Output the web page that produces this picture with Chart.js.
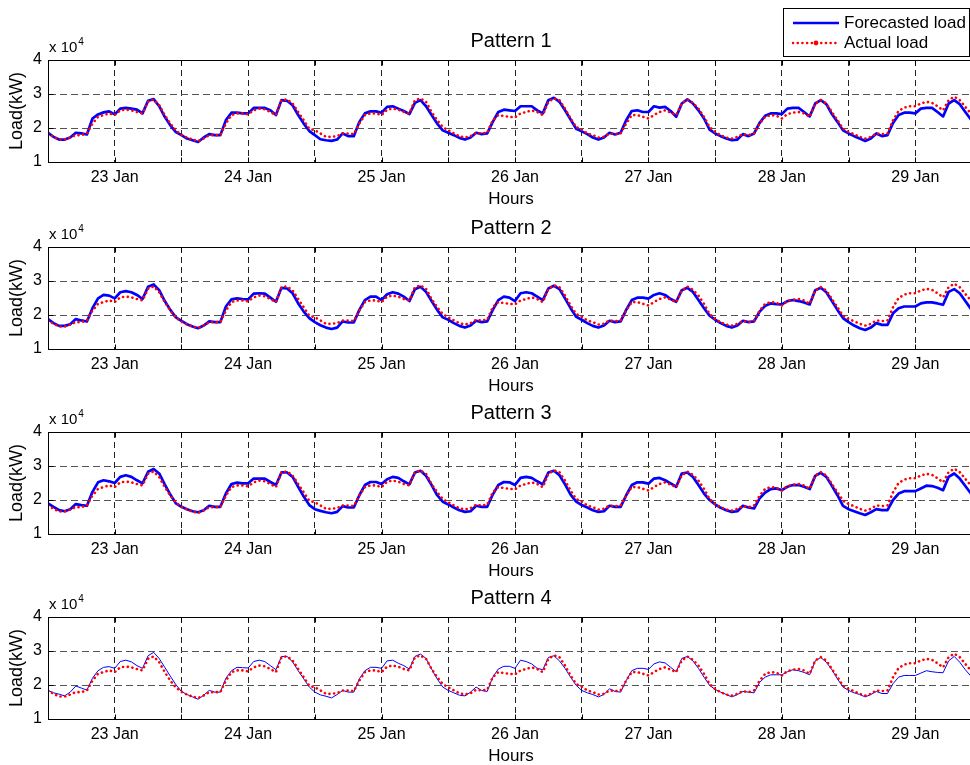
<!DOCTYPE html>
<html>
<head>
<meta charset="utf-8">
<title>Load forecast patterns</title>
<script src="https://cdn.jsdelivr.net/npm/chart.js@4.4.1/dist/chart.umd.min.js"></script>
<style>
  html, body { margin: 0; padding: 0; background: #fff; overflow: hidden; }
  #wrap { position: relative; width: 970px; height: 765px; overflow: hidden; }
  .panel { position: absolute; left: 0; width: 1000px; height: 215px; }
</style>
</head>
<body>
<div id="wrap">
  <div class="panel" style="top:0px"><canvas id="p1" width="1000" height="215"></canvas></div>
  <div class="panel" style="top:187px"><canvas id="p2" width="1000" height="215"></canvas></div>
  <div class="panel" style="top:372px"><canvas id="p3" width="1000" height="215"></canvas></div>
  <div class="panel" style="top:557px"><canvas id="p4" width="1000" height="215"></canvas></div>
</div>
<script>
// hourly samples, 22 Jan 00:00 .. 29 Jan 00:00 ; values in x 10^4 kW
const hours = Array.from({ length: 169 }, (_, h) => h);
const dayLabels = ['23 Jan', '24 Jan', '25 Jan', '26 Jan', '27 Jan', '28 Jan', '29 Jan'];

const actualLoad = [
  1.84,1.74,1.66,1.66,1.72,1.79,1.79,1.84,2.13,2.33,2.38,2.43,2.38,2.52,2.54,2.52,2.47,2.43,2.77,2.84,2.67,2.38,2.13,1.93,
  1.80,1.72,1.66,1.62,1.69,1.79,1.79,1.79,2.13,2.38,2.43,2.43,2.40,2.52,2.57,2.55,2.47,2.38,2.82,2.84,2.72,2.47,2.23,1.98,
  1.93,1.84,1.74,1.74,1.76,1.84,1.84,1.82,2.13,2.38,2.43,2.43,2.38,2.54,2.57,2.54,2.47,2.43,2.82,2.87,2.77,2.47,2.23,2.03,
  1.93,1.84,1.76,1.72,1.76,1.86,1.84,1.86,2.23,2.38,2.35,2.33,2.31,2.43,2.47,2.52,2.47,2.38,2.77,2.87,2.82,2.57,2.28,2.03,
  1.95,1.84,1.79,1.72,1.74,1.84,1.82,1.84,2.13,2.38,2.38,2.33,2.28,2.38,2.47,2.52,2.45,2.38,2.72,2.84,2.74,2.57,2.33,2.03,
  1.88,1.79,1.72,1.69,1.74,1.82,1.79,1.84,2.13,2.33,2.38,2.36,2.28,2.41,2.45,2.47,2.43,2.33,2.72,2.82,2.72,2.47,2.23,1.98,
  1.88,1.82,1.74,1.69,1.74,1.84,1.82,1.84,2.23,2.50,2.60,2.64,2.64,2.72,2.77,2.74,2.64,2.52,2.82,2.92,2.82,2.62,2.43,2.25,
  2.08
];

const forecast1 = [
  1.86,1.74,1.66,1.66,1.72,1.86,1.84,1.81,2.28,2.40,2.46,2.49,2.40,2.57,2.59,2.57,2.54,2.43,2.80,2.85,2.64,2.33,2.08,1.88,
  1.79,1.69,1.64,1.59,1.72,1.82,1.79,1.79,2.23,2.45,2.45,2.43,2.43,2.59,2.59,2.59,2.52,2.38,2.82,2.80,2.67,2.38,2.13,1.91,
  1.79,1.67,1.64,1.62,1.66,1.84,1.76,1.76,2.18,2.43,2.49,2.49,2.45,2.62,2.64,2.57,2.50,2.41,2.74,2.82,2.64,2.38,2.13,1.93,
  1.86,1.79,1.71,1.66,1.72,1.86,1.82,1.84,2.18,2.47,2.54,2.52,2.50,2.64,2.64,2.64,2.52,2.43,2.82,2.89,2.77,2.52,2.25,1.98,
  1.90,1.82,1.72,1.66,1.72,1.86,1.81,1.86,2.23,2.50,2.52,2.47,2.47,2.64,2.60,2.62,2.50,2.33,2.72,2.84,2.72,2.52,2.28,1.95,
  1.84,1.76,1.69,1.64,1.66,1.82,1.76,1.84,2.15,2.36,2.43,2.43,2.41,2.57,2.59,2.59,2.47,2.34,2.72,2.82,2.70,2.41,2.18,1.93,
  1.84,1.76,1.69,1.62,1.69,1.84,1.76,1.79,2.15,2.38,2.45,2.45,2.43,2.57,2.59,2.59,2.47,2.34,2.72,2.82,2.70,2.47,2.25,2.05,
  1.90
];

const forecast2 = [
  1.88,1.76,1.68,1.68,1.73,1.88,1.84,1.81,2.20,2.49,2.59,2.57,2.49,2.67,2.70,2.67,2.59,2.47,2.83,2.90,2.73,2.41,2.15,1.93,
  1.83,1.73,1.66,1.61,1.69,1.81,1.79,1.79,2.25,2.46,2.49,2.47,2.46,2.63,2.64,2.63,2.51,2.39,2.80,2.78,2.64,2.34,2.10,1.91,
  1.79,1.70,1.63,1.59,1.63,1.81,1.78,1.78,2.15,2.44,2.54,2.54,2.44,2.61,2.67,2.63,2.54,2.41,2.76,2.83,2.68,2.41,2.15,1.93,
  1.86,1.76,1.68,1.63,1.69,1.83,1.79,1.81,2.15,2.44,2.54,2.51,2.41,2.64,2.67,2.64,2.54,2.44,2.78,2.86,2.76,2.49,2.20,1.95,
  1.86,1.76,1.68,1.63,1.69,1.83,1.79,1.81,2.15,2.44,2.51,2.51,2.48,2.59,2.64,2.59,2.47,2.39,2.73,2.80,2.68,2.44,2.20,1.98,
  1.86,1.76,1.68,1.63,1.69,1.83,1.79,1.81,2.10,2.27,2.34,2.32,2.31,2.41,2.44,2.41,2.37,2.31,2.73,2.80,2.67,2.41,2.15,1.91,
  1.79,1.69,1.61,1.56,1.63,1.76,1.71,1.71,2.05,2.20,2.25,2.25,2.25,2.34,2.37,2.37,2.34,2.30,2.68,2.76,2.64,2.41,2.18,2.00,
  1.88
];

const forecast3 = [
  1.90,1.80,1.70,1.67,1.73,1.88,1.85,1.83,2.24,2.52,2.58,2.55,2.50,2.68,2.73,2.68,2.58,2.49,2.83,2.91,2.78,2.46,2.16,1.90,
  1.80,1.73,1.67,1.64,1.70,1.83,1.80,1.80,2.19,2.47,2.51,2.49,2.49,2.63,2.63,2.63,2.53,2.44,2.81,2.81,2.68,2.39,2.10,1.85,
  1.73,1.68,1.64,1.61,1.65,1.82,1.78,1.78,2.14,2.44,2.53,2.53,2.47,2.61,2.68,2.65,2.55,2.46,2.81,2.86,2.71,2.44,2.14,1.95,
  1.87,1.78,1.70,1.65,1.67,1.83,1.80,1.80,2.16,2.44,2.53,2.52,2.44,2.65,2.68,2.65,2.55,2.46,2.81,2.86,2.73,2.46,2.16,1.95,
  1.85,1.78,1.70,1.65,1.67,1.83,1.80,1.80,2.14,2.44,2.52,2.52,2.48,2.63,2.65,2.58,2.49,2.39,2.78,2.81,2.68,2.44,2.19,2.00,
  1.87,1.77,1.70,1.65,1.67,1.83,1.78,1.75,2.05,2.22,2.32,2.34,2.29,2.39,2.44,2.44,2.39,2.32,2.71,2.80,2.68,2.42,2.14,1.83,
  1.73,1.67,1.61,1.56,1.64,1.73,1.70,1.70,2.00,2.19,2.26,2.26,2.26,2.34,2.42,2.41,2.36,2.29,2.68,2.78,2.63,2.41,2.19,2.00,
  1.88
];

const forecast4 = [
  1.84,1.77,1.73,1.68,1.79,1.97,1.91,1.85,2.20,2.42,2.52,2.54,2.49,2.69,2.73,2.68,2.57,2.49,2.86,2.96,2.78,2.52,2.26,2.01,
  1.81,1.72,1.65,1.58,1.70,1.84,1.79,1.79,2.20,2.42,2.52,2.51,2.50,2.69,2.73,2.69,2.57,2.45,2.84,2.84,2.68,2.42,2.18,1.94,
  1.79,1.71,1.67,1.62,1.72,1.84,1.79,1.79,2.18,2.42,2.52,2.52,2.49,2.71,2.73,2.64,2.57,2.47,2.84,2.91,2.78,2.47,2.18,1.94,
  1.84,1.77,1.70,1.68,1.79,1.94,1.84,1.81,2.23,2.47,2.55,2.55,2.49,2.73,2.69,2.62,2.49,2.45,2.81,2.86,2.71,2.49,2.23,1.99,
  1.84,1.77,1.72,1.65,1.72,1.89,1.81,1.79,2.13,2.42,2.49,2.49,2.46,2.62,2.68,2.65,2.52,2.39,2.78,2.84,2.71,2.49,2.23,1.99,
  1.87,1.79,1.72,1.65,1.72,1.81,1.79,1.77,2.08,2.23,2.30,2.30,2.30,2.39,2.45,2.42,2.37,2.30,2.71,2.81,2.67,2.45,2.18,1.94,
  1.84,1.77,1.72,1.65,1.72,1.81,1.75,1.75,2.04,2.23,2.28,2.28,2.28,2.35,2.42,2.39,2.37,2.36,2.71,2.84,2.67,2.45,2.26,2.05,
  1.90
];

const FONT = "'Liberation Sans', Arial, Helvetica, sans-serif";
Chart.defaults.font.family = FONT;
Chart.defaults.color = '#000';

// title, axis labels, box, inward ticks and the legend (matlab look)
const decoPlugin = {
  id: 'deco',
  afterDraw(chart, args, opts) {
    const { ctx, chartArea: a, scales } = chart;
    const L = Math.round(a.left) + 0.5, T = Math.round(a.top) + 0.5;
    const R = Math.round(a.right) + 0.5, B = Math.round(a.bottom) + 0.5;
    ctx.save();
    ctx.strokeStyle = '#000';
    ctx.lineWidth = 1;
    ctx.setLineDash([]);
    ctx.strokeRect(L, T, R - L, B - T);

    // small inward ticks
    ctx.beginPath();
    scales.x.ticks.forEach(t => {
      const px = Math.round(scales.x.getPixelForValue(t.value)) + 0.5;
      ctx.moveTo(px, B); ctx.lineTo(px, B - 5);
      ctx.moveTo(px, T); ctx.lineTo(px, T + 5);
    });
    scales.y.ticks.forEach(t => {
      const py = Math.round(scales.y.getPixelForValue(t.value)) + 0.5;
      ctx.moveTo(L, py); ctx.lineTo(L + 5, py);
      ctx.moveTo(R, py); ctx.lineTo(R - 5, py);
    });
    ctx.stroke();

    ctx.fillStyle = '#000';
    ctx.textAlign = 'center';
    ctx.textBaseline = 'alphabetic';
    ctx.font = '20px ' + FONT;
    ctx.fillText(opts.title, 511, a.top - 13);

    ctx.font = '17px ' + FONT;
    ctx.fillText('Hours', 511, a.bottom + 42);

    ctx.textAlign = 'left';
    ctx.font = '15px ' + FONT;
    ctx.fillText('x 10', a.left + 1, a.top - 8);
    const w = ctx.measureText('x 10').width;
    ctx.font = '10px ' + FONT;
    ctx.fillText('4', a.left + 1 + w + 1, a.top - 15);

    ctx.save();
    ctx.translate(22, (a.top + a.bottom) / 2);
    ctx.rotate(-Math.PI / 2);
    ctx.textAlign = 'center';
    ctx.font = '18px ' + FONT;
    ctx.fillText('Load(kW)', 0, 0);
    ctx.restore();

    if (opts.legend) {
      ctx.fillStyle = '#fff';
      ctx.fillRect(783.5, 8.5, 186, 48);
      ctx.strokeStyle = '#000';
      ctx.strokeRect(783.5, 8.5, 186, 48);

      ctx.strokeStyle = '#0000ff';
      ctx.lineWidth = 2.7;
      ctx.beginPath(); ctx.moveTo(793, 23); ctx.lineTo(839, 23); ctx.stroke();

      ctx.strokeStyle = '#ff0000';
      ctx.lineWidth = 2.5;
      ctx.lineCap = 'round';
      ctx.setLineDash([0.1, 4.6]);
      ctx.beginPath(); ctx.moveTo(793, 43); ctx.lineTo(839, 43); ctx.stroke();
      ctx.setLineDash([]);
      ctx.fillStyle = '#ff0000';
      ctx.beginPath(); ctx.arc(816, 43, 2.4, 0, Math.PI * 2); ctx.fill();

      ctx.fillStyle = '#000';
      ctx.textAlign = 'left';
      ctx.textBaseline = 'middle';
      ctx.font = '17px ' + FONT;
      ctx.fillText('Forecasted load', 844, 23);
      ctx.fillText('Actual load', 844, 43);
    }
    ctx.restore();
  }
};

function makeChart(id, title, forecast, thin, legend) {
  return new Chart(document.getElementById(id), {
    type: 'line',
    data: {
      labels: hours,
      datasets: [
        {
          label: 'Actual load',
          data: actualLoad,
          borderColor: '#ff0000',
          borderWidth: 2.6,
          borderDash: [0.1, 4.6],
          borderCapStyle: 'round',
          pointRadius: 0,
          tension: 0,
          order: 0
        },
        {
          label: 'Forecasted load',
          data: forecast,
          borderColor: '#0000ff',
          borderWidth: thin ? 1 : 2.7,
          borderJoinStyle: 'round',
          pointRadius: 0,
          tension: 0,
          order: 1
        }
      ]
    },
    options: {
      responsive: false,
      animation: false,
      devicePixelRatio: 1,
      events: [],
      layout: { padding: { top: 60, right: 18, bottom: 25, left: 0 } },
      plugins: {
        legend: { display: false },
        tooltip: { enabled: false },
        deco: { title: title, legend: legend }
      },
      scales: {
        x: {
          type: 'linear',
          min: 0,
          max: 168,
          afterFit: s => { s.height = 28; },
          ticks: {
            stepSize: 12,
            autoSkip: false,
            maxRotation: 0,
            padding: 6,
            font: { size: 16 },
            color: '#000',
            callback: v => ((v - 12) % 24 === 0 ? dayLabels[(v - 12) / 24] : '')
          },
          grid: { color: '#222', lineWidth: 1, drawTicks: false },
          border: { display: true, color: '#000', dash: [6, 4] }
        },
        y: {
          min: 1,
          max: 4,
          afterFit: s => { s.width = 48; },
          ticks: { stepSize: 1, padding: 6, font: { size: 16 }, color: '#000' },
          grid: { color: '#555', lineWidth: 1, drawTicks: false },
          border: { display: true, color: '#000', dash: [7, 4] }
        }
      }
    },
    plugins: [decoPlugin]
  });
}

makeChart('p1', 'Pattern 1', forecast1, false, true);
makeChart('p2', 'Pattern 2', forecast2, false, false);
makeChart('p3', 'Pattern 3', forecast3, false, false);
makeChart('p4', 'Pattern 4', forecast4, true, false);
</script>
</body>
</html>
